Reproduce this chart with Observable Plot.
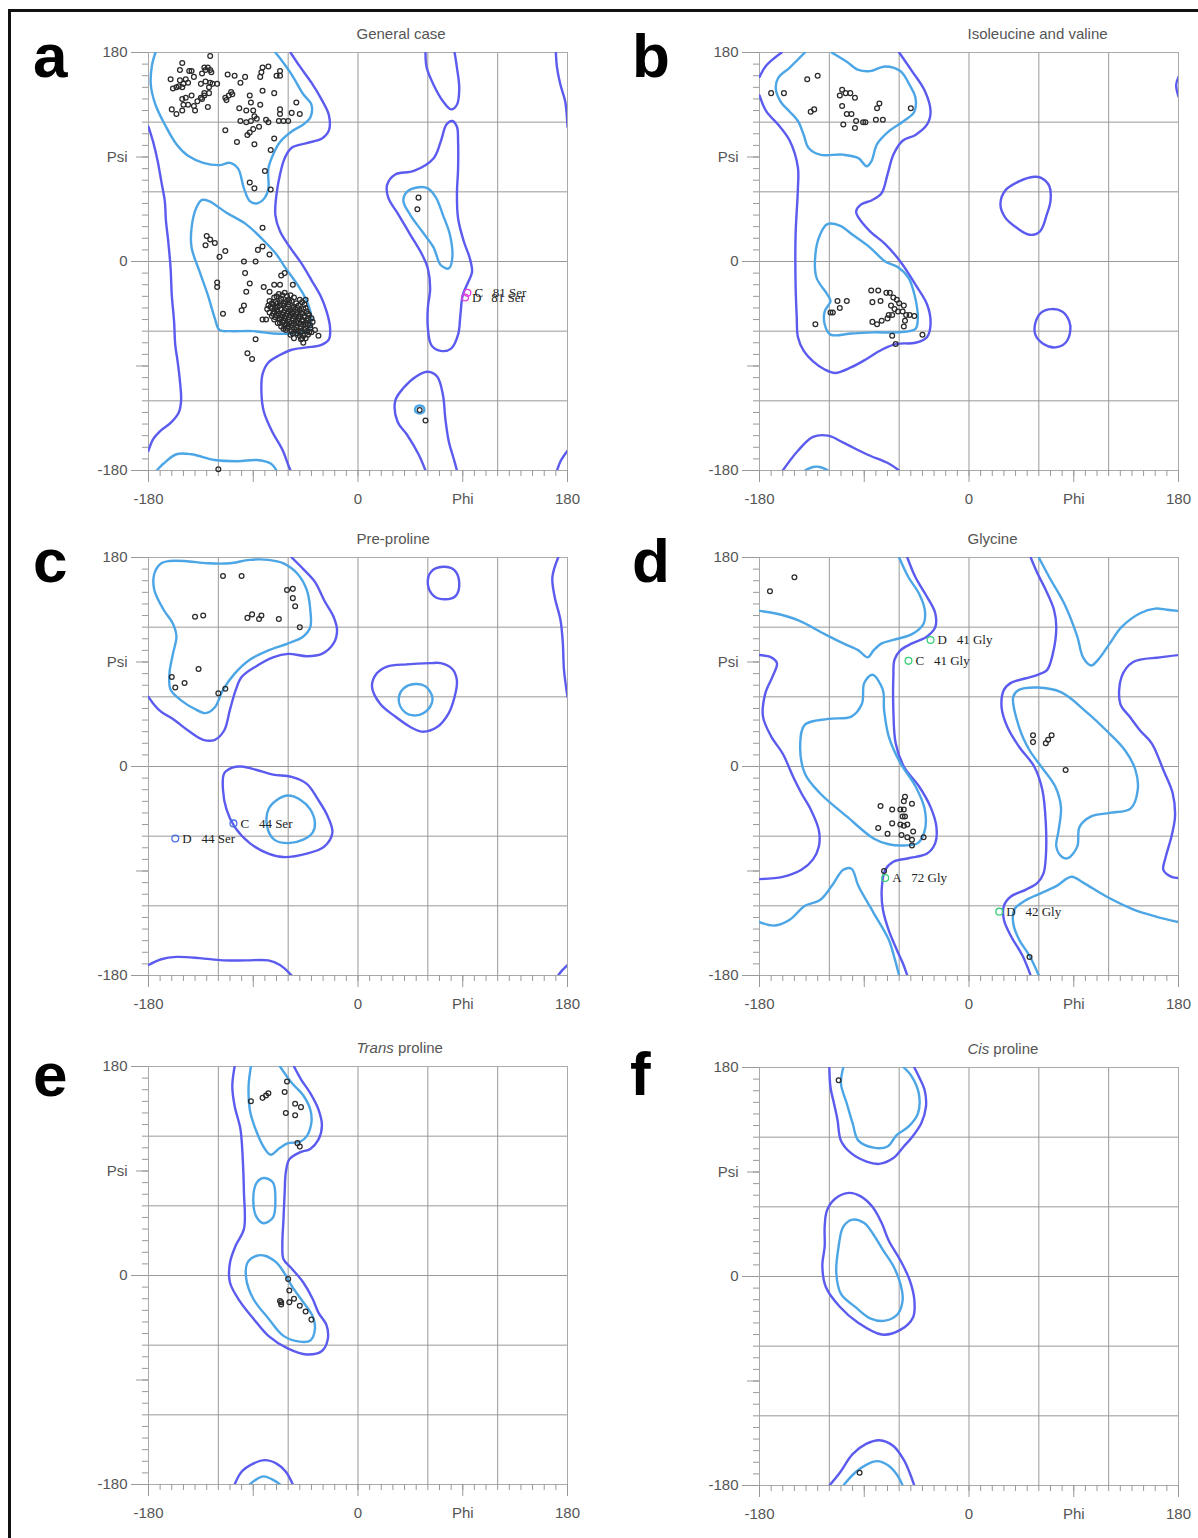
<!DOCTYPE html>
<html><head><meta charset="utf-8">
<script src="https://cdn.jsdelivr.net/npm/d3@7"></script>
<script src="https://cdn.jsdelivr.net/npm/@observablehq/plot@0.6"></script>
<style>
body{margin:0;background:#fff;width:1198px;height:1538px;overflow:hidden;position:relative;font-family:Arial,"Liberation Sans",sans-serif;}
#frame{position:absolute;left:8px;top:9px;width:1300px;height:1700px;border-left:3px solid #111;border-top:3px solid #111;}
svg.panel{position:absolute;}
#overlay{position:absolute;left:0;top:0;}
</style></head><body>
<div id="frame"></div>
<script>
// ---------- axis ticks ----------
const minorTicks = [-180,-170,-160,-150,-140,-130,-120,-110,-100,-90,-80,-70,-60,-50,-40,-30,-20,-10,0,10,20,30,40,50,60,70,80,90,100,110,120,130,140,150,160,170,180];
const gridLines = [-120,-60,0,60,120];
const xMajorTicks = [-180,-90,0,90,180];
const xLabelTicks = [-180,0,90,180];
const xLabelText = ["-180","0","Phi","180"];
const yMidTicks = [90,-90];
const yMajorTicks = [180,0,-180];
const yLabelTicks = [180,90,0,-180];
const yLabelText = ["180","Psi","0","-180"];

// ---------- panel titles ----------
const panelKeys = ["a","b","c","d","e","f"];
const panelTitles = [["","General case"],["","Isoleucine and valine"],["","Pre-proline"],["","Glycine"],["Trans"," proline"],["Cis"," proline"]];

// ---------- contours (phi, psi) ----------
const contoursA = [
 {level:"allowed", closed:false, pts:[[-180,116],[-176,103],[-172,86],[-169,69],[-166,52],[-165,35],[-163,17],[-161,-6],[-160,-29],[-158,-52],[-157,-72],[-155,-86],[-153,-103],[-152,-120],[-154,-130],[-161,-139],[-170,-146],[-176,-153],[-180,-163]]},
 {level:"allowed", closed:false, pts:[[-58,180],[-50,168],[-40,154],[-31,139],[-25,126],[-25,113],[-31,106],[-44,102],[-57,98],[-63,89],[-67,75],[-70,58],[-71,40],[-67,26],[-59,13],[-49,-1],[-40,-16],[-32,-30],[-27,-43],[-24,-57],[-25,-67],[-32,-72],[-44,-74],[-57,-76],[-68,-81],[-77,-87],[-82,-97],[-83,-112],[-81,-129],[-74,-146],[-65,-162],[-60,-175],[-58,-180]]},
 {level:"allowed", closed:false, pts:[[58,180],[59,167],[65,152],[73,138],[80,131],[85,135],[87,149],[85,167],[83,180]]},
 {level:"allowed", closed:true, pts:[[81,121],[76,118],[71,103],[65,89],[48,78],[32,75],[25,66],[26,55],[35,40],[45,23],[55,6],[60,-6],[62,-23],[60,-40],[60,-57],[63,-72],[71,-77],[80,-75],[86,-63],[88,-46],[90,-29],[95,-17],[98,-9],[96,3],[91,17],[86,37],[85,58],[86,80],[86,103],[85,116]]},
 {level:"allowed", closed:false, pts:[[58,-180],[52,-166],[42,-149],[34,-138],[32,-120],[39,-109],[50,-99],[60,-95],[68,-99],[73,-115],[75,-135],[78,-155],[82,-169],[85,-180]]},
 {level:"allowed", closed:false, pts:[[170,180],[171,167],[174,152],[178,138],[180,116]]},
 {level:"allowed", closed:false, pts:[[171,-180],[174,-172],[180,-163]]},
 {level:"favoured", closed:false, pts:[[-174,180],[-177,169],[-178,152],[-174,135],[-166,118],[-156,101],[-146,91],[-133,85],[-119,83],[-110,85],[-103,80],[-98,63],[-93,52],[-87,50],[-80,55],[-77,63],[-77,80],[-73,92],[-67,103],[-57,112],[-47,118],[-41,124],[-40,135],[-47,144],[-57,161],[-67,175],[-71,180]]},
 {level:"favoured", closed:true, pts:[[-134,53],[-139,46],[-143,29],[-143,12],[-136,-9],[-129,-29],[-123,-49],[-119,-59],[-110,-60],[-90,-60],[-73,-62],[-57,-62],[-44,-60],[-40,-50],[-44,-34],[-52,-20],[-62,-6],[-70,6],[-80,17],[-96,32],[-113,42],[-128,52]]},
 {level:"favoured", closed:false, pts:[[-173,-180],[-167,-174],[-156,-166],[-143,-166],[-123,-171],[-103,-172],[-87,-171],[-75,-174],[-70,-180]]},
 {level:"favoured", closed:true, pts:[[52,64],[42,60],[39,52],[45,40],[55,26],[65,12],[71,-3],[78,-6],[81,3],[79,23],[73,40],[67,55],[60,63]]},
 {level:"favoured", closed:true, pts:[[57,-128],[56,-125],[53,-124],[50,-125],[49,-128],[50,-130],[53,-131],[56,-130]]}
];
const contoursB = [
 {level:"allowed", closed:false, pts:[[-180,159],[-174,169],[-161,180]]},
 {level:"allowed", closed:false, pts:[[-60,180],[-49,164],[-38,147],[-33,129],[-36,118],[-46,109],[-57,104],[-65,92],[-70,75],[-75,59],[-83,53],[-93,49],[-97,43],[-95,38],[-85,26],[-72,15],[-59,0],[-46,-20],[-36,-37],[-33,-53],[-36,-65],[-46,-70],[-62,-71],[-75,-76],[-88,-84],[-101,-91],[-115,-96],[-124,-93],[-134,-86],[-142,-77],[-147,-65],[-148,-48],[-149,-20],[-149,23],[-147,63],[-147,81],[-154,104],[-164,118],[-174,129],[-180,143]]},
 {level:"allowed", closed:true, pts:[[56,73],[43,69],[31,61],[27,49],[31,38],[41,29],[52,23],[61,26],[67,41],[70,52],[69,65],[62,72]]},
 {level:"allowed", closed:true, pts:[[71,-41],[80,-43],[86,-51],[87,-60],[83,-70],[74,-74],[64,-71],[57,-63],[57,-53],[62,-44]]},
 {level:"allowed", closed:false, pts:[[-160,-180],[-147,-163],[-134,-151],[-121,-150],[-108,-156],[-88,-166],[-69,-174],[-60,-180]]},
 {level:"allowed", closed:false, pts:[[180,159],[178,152],[180,142]]},
 {level:"favoured", closed:false, pts:[[-141,180],[-154,167],[-164,158],[-166,149],[-162,138],[-154,129],[-147,121],[-142,109],[-138,98],[-128,92],[-108,92],[-95,89],[-88,82],[-84,86],[-79,101],[-69,112],[-56,121],[-47,129],[-46,141],[-51,152],[-59,164],[-72,168],[-85,164],[-95,165],[-105,172],[-118,180]]},
 {level:"favoured", closed:true, pts:[[-122,32],[-128,23],[-132,6],[-131,-14],[-122,-28],[-119,-34],[-124,-43],[-124,-54],[-119,-63],[-101,-62],[-82,-61],[-62,-61],[-46,-58],[-44,-48],[-47,-28],[-52,-14],[-61,-5],[-72,0],[-85,12],[-100,23],[-111,31]]},
 {level:"favoured", closed:false, pts:[[-141,-180],[-134,-177],[-128,-177],[-121,-180]]}
];
const contoursC = [
 {level:"favoured", closed:true, pts:[[-162,177],[-169,175],[-175,166],[-175,152],[-167,135],[-159,123],[-156,112],[-159,97],[-162,80],[-161,66],[-152,57],[-141,50],[-131,46],[-123,51],[-116,66],[-106,80],[-93,92],[-77,100],[-60,106],[-47,112],[-41,120],[-41,135],[-44,152],[-52,166],[-64,175],[-77,178],[-93,178],[-110,175],[-129,175],[-149,177]]},
 {level:"allowed", closed:false, pts:[[-57,180],[-47,170],[-37,159],[-29,143],[-21,129],[-18,117],[-21,106],[-31,97],[-44,95],[-60,97],[-73,94],[-88,86],[-100,77],[-105,66],[-110,49],[-115,31],[-123,23],[-133,23],[-146,31],[-159,41],[-169,47],[-175,53],[-180,60]]},
 {level:"allowed", closed:false, pts:[[172,180],[167,163],[169,146],[174,126],[176,106],[177,83],[180,60]]},
 {level:"allowed", closed:true, pts:[[73,172],[83,169],[87,158],[84,147],[75,144],[65,147],[60,157],[63,168]]},
 {level:"allowed", closed:true, pts:[[62,89],[42,88],[25,86],[16,80],[12,69],[19,54],[32,43],[45,34],[55,30],[68,34],[78,46],[83,60],[85,74],[81,84],[71,89]]},
 {level:"favoured", closed:true, pts:[[49,71],[58,69],[64,59],[60,49],[50,44],[40,47],[35,57],[39,67]]},
 {level:"allowed", closed:true, pts:[[-108,-1],[-115,-6],[-116,-20],[-113,-37],[-106,-52],[-93,-66],[-77,-75],[-64,-78],[-44,-75],[-29,-69],[-22,-57],[-26,-43],[-34,-29],[-44,-15],[-57,-9],[-73,-7],[-87,-3],[-100,0]]},
 {level:"favoured", closed:true, pts:[[-60,-25],[-70,-29],[-77,-37],[-78,-52],[-72,-63],[-60,-66],[-47,-63],[-39,-57],[-37,-49],[-41,-37],[-49,-29]]},
 {level:"allowed", closed:false, pts:[[-180,-171],[-169,-166],[-156,-164],[-136,-165],[-116,-167],[-96,-167],[-77,-167],[-67,-171],[-57,-180]]},
 {level:"allowed", closed:false, pts:[[172,-180],[175,-176],[180,-171]]}
];
const contoursD = [
 {level:"allowed", closed:false, pts:[[-53,180],[-46,163],[-36,146],[-29,132],[-29,120],[-36,112],[-49,106],[-59,100],[-64,92],[-65,77],[-65,49],[-63,20],[-56,0],[-43,-17],[-33,-35],[-28,-52],[-29,-66],[-36,-75],[-52,-79],[-65,-82],[-72,-89],[-75,-106],[-74,-123],[-69,-141],[-62,-158],[-57,-169],[-53,-180]]},
 {level:"favoured", closed:false, pts:[[-60,180],[-52,163],[-43,149],[-38,135],[-39,123],[-49,114],[-65,109],[-75,106],[-82,100],[-87,94],[-95,100],[-108,106],[-124,114],[-147,126],[-167,132],[-180,134]]},
 {level:"favoured", closed:true, pts:[[-83,79],[-74,66],[-73,49],[-69,26],[-59,3],[-46,-17],[-38,-37],[-38,-55],[-44,-66],[-56,-68],[-69,-67],[-82,-62],[-105,-43],[-128,-23],[-141,-6],[-145,20],[-141,36],[-121,41],[-101,43],[-92,54],[-90,72]]},
 {level:"favoured", closed:false, pts:[[-180,-134],[-167,-137],[-154,-132],[-141,-120],[-128,-115],[-118,-103],[-108,-89],[-101,-88],[-95,-103],[-82,-126],[-69,-149],[-64,-165],[-60,-180]]},
 {level:"allowed", closed:false, pts:[[-180,96],[-170,94],[-165,89],[-169,77],[-175,63],[-177,43],[-170,26],[-160,11],[-151,-9],[-144,-23],[-136,-37],[-129,-55],[-129,-69],[-134,-80],[-144,-89],[-160,-95],[-180,-97]]},
 {level:"allowed", closed:false, pts:[[180,96],[164,94],[141,90],[131,77],[130,54],[138,43],[147,31],[157,20],[167,-3],[175,-23],[177,-43],[174,-60],[169,-78],[167,-89],[174,-95],[180,-96]]},
 {level:"allowed", closed:false, pts:[[53,-180],[46,-163],[36,-146],[30,-132],[30,-120],[36,-112],[49,-106],[59,-100],[64,-92],[66,-78],[66,-49],[63,-20],[56,0],[43,17],[33,34],[28,51],[30,66],[36,72],[49,76],[59,79],[67,83],[72,97],[75,120],[73,135],[66,152],[59,166],[53,180]]},
 {level:"favoured", closed:false, pts:[[60,-180],[52,-163],[43,-149],[38,-135],[39,-123],[49,-115],[62,-109],[75,-103],[88,-95],[98,-100],[118,-112],[141,-123],[160,-129],[180,-134]]},
 {level:"favoured", closed:true, pts:[[38,60],[43,34],[52,14],[62,0],[74,-17],[79,-35],[77,-55],[75,-69],[80,-78],[85,-79],[93,-69],[95,-52],[105,-43],[121,-40],[139,-36],[145,-20],[143,-3],[134,14],[118,31],[102,46],[79,64],[59,68],[43,66]]},
 {level:"favoured", closed:false, pts:[[60,180],[69,163],[82,140],[93,112],[98,94],[105,87],[111,92],[121,106],[131,120],[147,132],[160,136],[170,135],[180,134]]}
];
const contoursE = [
 {level:"allowed", closed:false, pts:[[-106,180],[-108,163],[-106,146],[-101,126],[-99,100],[-98,72],[-98,40],[-105,26],[-110,11],[-110,-6],[-101,-23],[-90,-37],[-77,-52],[-60,-63],[-44,-68],[-31,-65],[-26,-55],[-27,-43],[-34,-32],[-39,-20],[-47,-6],[-57,6],[-64,14],[-65,26],[-64,49],[-63,72],[-62,89],[-59,100],[-50,106],[-41,109],[-34,117],[-31,129],[-34,143],[-41,157],[-49,169],[-55,180]]},
 {level:"favoured", closed:false, pts:[[-92,180],[-94,163],[-93,143],[-88,126],[-80,109],[-75,104],[-67,110],[-60,114],[-50,115],[-44,120],[-40,132],[-41,143],[-47,155],[-57,166],[-67,180]]},
 {level:"favoured", closed:true, pts:[[-81,84],[-73,80],[-71,65],[-73,50],[-81,45],[-87,50],[-90,65],[-87,80]]},
 {level:"favoured", closed:true, pts:[[-87,17],[-95,11],[-96,-3],[-90,-20],[-77,-37],[-64,-52],[-50,-57],[-41,-56],[-37,-46],[-39,-35],[-47,-23],[-57,-9],[-62,0],[-70,11],[-80,17]]},
 {level:"allowed", closed:false, pts:[[-106,-180],[-100,-169],[-90,-162],[-80,-159],[-70,-162],[-62,-169],[-56,-180]]},
 {level:"favoured", closed:false, pts:[[-93,-180],[-88,-176],[-81,-173],[-73,-176],[-67,-180]]}
];
const contoursF = [
 {level:"allowed", closed:false, pts:[[-120,180],[-119,163],[-116,149],[-113,135],[-110,117],[-101,106],[-88,99],[-77,97],[-65,102],[-56,112],[-49,120],[-41,132],[-37,146],[-38,160],[-43,172],[-47,180]]},
 {level:"favoured", closed:false, pts:[[-108,180],[-110,166],[-105,149],[-100,132],[-95,117],[-82,111],[-70,112],[-62,122],[-52,129],[-44,140],[-43,157],[-49,172],[-56,180]]},
 {level:"allowed", closed:true, pts:[[-103,72],[-115,67],[-122,57],[-124,43],[-124,26],[-126,9],[-123,-9],[-111,-26],[-95,-40],[-75,-50],[-59,-46],[-48,-35],[-47,-20],[-51,-3],[-59,14],[-69,31],[-75,46],[-83,60],[-93,69]]},
 {level:"favoured", closed:true, pts:[[-100,49],[-108,43],[-112,26],[-114,3],[-110,-15],[-98,-26],[-85,-36],[-72,-38],[-61,-32],[-57,-20],[-59,-6],[-65,9],[-74,23],[-82,36],[-90,46]]},
 {level:"allowed", closed:false, pts:[[-120,-180],[-111,-169],[-100,-153],[-88,-144],[-77,-141],[-65,-146],[-56,-158],[-51,-169],[-47,-180]]},
 {level:"favoured", closed:false, pts:[[-108,-180],[-98,-169],[-88,-162],[-79,-159],[-69,-163],[-61,-172],[-57,-180]]}
];

// ---------- residues (phi, psi) ----------
const pointsA = [
 [-127,177],[-151,171],[-153,165],[-145,164],[-143,164],[-132,167],[-129,167],[-131,165],[-127,165],[-126,163],[-134,162],[-141,159],[-161,157],[-153,156],[-148,157],[-146,154],[-150,153],[-154,151],[-159,149],[-156,150],[-151,150],[-135,153],[-131,155],[-127,154],[-125,153],[-121,153],[-128,150],[-132,145],[-128,145],[-143,143],[-148,141],[-151,140],[-135,141],[-132,143],[-138,138],[-146,135],[-141,134],[-150,135],[-160,131],[-156,127],[-151,130],[-140,130],[-129,133],[-134,140],
 [-112,161],[-106,160],[-97,159],[-101,154],[-82,167],[-77,168],[-83,163],[-84,159],[-70,160],[-67,164],[-67,160],[-109,146],[-111,143],[-113,139],[-108,144],[-114,141],[-93,143],[-82,147],[-72,145],[-92,137],[-84,135],[-102,132],[-96,130],[-90,130],[-89,125],[-67,131],[-67,127],[-57,128],[-50,127],[-53,137],[-101,121],[-96,120],[-92,121],[-87,123],[-79,122],[-77,120],[-68,121],[-64,121],[-60,121],[-85,116],[-90,114],[-93,111],[-95,109],[-114,113],[-104,103],[-89,101],[-72,106],[-75,96],[-80,78],[-93,68],[-89,63],[-75,62],
 [-82,29],[-130,22],[-127,19],[-123,16],[-131,14],[-114,9],[-119,4],[-86,10],[-82,13],[-76,6],[-98,0],[-88,0],[-97,-10],[-93,-19],[-96,-26],[-121,-18],[-121,-22],[-66,-12],[-63,-10],[-56,-20],[-81,-22],[-72,-20],[-67,-20],[-76,-26],[-98,-38],[-100,-42],[-116,-45],[-88,-67],[-95,-79],[-91,-84],[-82,-50],[-79,-50],[-45,-33],[-37,-59],[-34,-64],[-47,-70],[-48,-66],
 [-68,-28],[-63,-27],[-58,-29],[-72,-31],[-66,-32],[-61,-30],[-55,-31],[-50,-33],
 [-76,-34],[-71,-35],[-67,-34],[-62,-35],[-57,-34],[-53,-36],
 [-77,-38],[-73,-37],[-69,-39],[-64,-38],[-60,-37],[-55,-39],[-51,-38],[-46,-37],
 [-78,-41],[-74,-40],[-70,-42],[-66,-41],[-62,-40],[-58,-42],[-54,-41],[-50,-42],[-45,-40],
 [-76,-44],[-72,-43],[-68,-45],[-64,-44],[-60,-43],[-56,-45],[-52,-44],[-48,-45],[-44,-43],
 [-74,-47],[-70,-46],[-66,-48],[-62,-47],[-58,-46],[-54,-48],[-50,-47],[-46,-48],[-42,-46],
 [-72,-50],[-68,-49],[-64,-51],[-60,-50],[-56,-49],[-52,-51],[-48,-50],[-44,-51],[-40,-49],
 [-69,-53],[-65,-52],[-61,-54],[-57,-53],[-53,-52],[-49,-54],[-45,-53],[-41,-55],
 [-66,-56],[-61,-57],[-57,-55],[-53,-57],[-49,-56],[-45,-58],[-41,-57],
 [-62,-59],[-57,-60],[-53,-59],[-49,-61],[-44,-60],[-40,-61],
 [-58,-63],[-52,-62],[-47,-64],[-43,-63],[-55,-66],[-49,-67],
 [-70,-30],[-65,-29],[-60,-33],[-74,-36],[-69,-36],[-64,-36],[-59,-35],[-48,-35],
 [-75,-39],[-71,-40],[-67,-38],[-63,-42],[-56,-40],[-52,-40],[-47,-41],
 [-73,-45],[-69,-43],[-65,-46],[-61,-45],[-57,-44],[-53,-46],[-49,-44],[-43,-45],
 [-71,-48],[-67,-50],[-63,-49],[-59,-48],[-55,-47],[-51,-49],[-47,-51],[-43,-49],[-39,-52],
 [-67,-53],[-63,-55],[-59,-52],[-55,-54],[-51,-53],[-47,-55],[-43,-54],
 [-64,-58],[-60,-56],[-55,-58],[-51,-60],[-46,-59],[-42,-61],[-56,-62],[-50,-64],[-45,-66],
 [-120,-179],[52,55],[51,45],[53,-128],[58,-137]
];
const pointsB = [
 [-170,145],[-159,145],[-139,157],[-130,160],[-136,129],[-133,131],[-109,148],[-106,145],[-102,145],[-111,143],[-98,141],[-109,134],[-105,127],[-101,127],[-108,118],[-98,115],[-97,121],[-91,120],[-89,120],[-79,132],[-77,136],[-80,122],[-74,122],[-50,132],
 [-132,-54],[-119,-44],[-117,-44],[-113,-34],[-105,-34],[-111,-40],[-84,-25],[-78,-25],[-83,-35],[-76,-34],[-83,-52],[-79,-54],[-75,-51],[-71,-27],[-68,-27],[-65,-31],[-67,-38],[-62,-33],[-60,-36],[-56,-38],[-64,-41],[-61,-43],[-69,-46],[-66,-46],[-70,-49],[-57,-43],[-54,-46],[-51,-46],[-47,-47],[-55,-51],[-56,-56],[-66,-64],[-63,-71],[-40,-63]
];
const pointsC = [
 [-116,164],[-100,164],[-61,152],[-56,153],[-56,145],[-54,138],[-50,120],[-140,129],[-133,130],[-95,128],[-91,131],[-83,130],[-85,127],[-68,127],[-137,84],[-160,77],[-157,68],[-149,72],[-120,63],[-114,67]
];
const pointsD = [
 [-171,151],[-150,163],[-73,-90],[52,-164],[55,27],[55,21],[66,20],[68,23],[71,27],[83,-3],
 [-76,-34],[-66,-37],[-59,-37],[-56,-37],[-56,-30],[-55,-26],[-49,-32],[-57,-43],[-55,-43],[-66,-49],[-59,-50],[-56,-51],[-53,-50],[-78,-53],[-70,-58],[-58,-59],[-53,-61],[-48,-56],[-49,-63],[-49,-68],[-39,-61]
];
const pointsE = [
 [-61,167],[-63,158],[-92,150],[-82,153],[-79,155],[-77,157],[-54,148],[-49,145],[-62,140],[-54,138],[-52,114],[-50,111],
 [-60,-3],[-59,-13],[-55,-20],[-59,-23],[-67,-22],[-66,-25],[-66,-23],[-50,-26],[-45,-31],[-40,-38]
];
const pointsF = [[-112,169],[-94,-169]];

// ---------- labelled outliers ----------
const outliersA = [{phi:94, psi:-27, chain:"C", res:"81 Ser"},{phi:92, psi:-31, chain:"D", res:"81 Ser"}];
const outliersC = [{phi:-107, psi:-49, chain:"C", res:"44 Ser"},{phi:-157, psi:-62, chain:"D", res:"44 Ser"}];
const outliersD = [{phi:-33, psi:109, chain:"D", res:"41 Gly"},{phi:-52, psi:91, chain:"C", res:"41 Gly"},{phi:-72, psi:-96, chain:"A", res:"72 Gly"},{phi:26, psi:-125, chain:"D", res:"42 Gly"}];
const outliersB = [], outliersE = [], outliersF = [];

// ---------- layout / style ----------
const OUTER = "#5b5bef", INNER = "#4ca6e6";
const layout = {
  a:{left:148, top:52, lx:33, ly:77}, b:{left:759, top:52, lx:632, ly:77},
  c:{left:148, top:557, lx:33, ly:582}, d:{left:759, top:557, lx:632, ly:582},
  e:{left:148, top:1066, lx:33, ly:1096}, f:{left:759, top:1067, lx:630, ly:1095}
};
const panelData = {
  a:{contours:contoursA, points:pointsA, outliers:outliersA, oc:"#e040e0"},
  b:{contours:contoursB, points:pointsB, outliers:outliersB, oc:"#333"},
  c:{contours:contoursC, points:pointsC, outliers:outliersC, oc:"#4a6ee6"},
  d:{contours:contoursD, points:pointsD, outliers:outliersD, oc:"#3ad07a"},
  e:{contours:contoursE, points:pointsE, outliers:outliersE, oc:"#333"},
  f:{contours:contoursF, points:pointsF, outliers:outliersF, oc:"#333"}
};

const ML = 60, MT = 10, MR = 15, MB = 45, PW = 419, PH = 418;
const tickCol = "#999";

function drawPanel(key) {
  const cfg = panelData[key];
  const rows = [];
  cfg.contours.forEach((c, i) => c.pts.forEach(p => rows.push({id:i, level:c.level, closed:c.closed, phi:p[0], psi:p[1]})));
  const sel = (level, closed) => rows.filter(r => r.level === level && r.closed === closed);
  const lo = (color, curve) => ({x:"phi", y:"psi", z:"id", stroke:color, strokeWidth:2.4, curve, clip:true});
  const svg = Plot.plot({
    width: ML + PW + MR, height: MT + PH + MB,
    marginLeft: ML, marginTop: MT, marginRight: MR, marginBottom: MB,
    x: {domain:[-180,180], label:null},
    y: {domain:[-180,180], label:null},
    style: {background:"transparent", fontFamily:"Arial, 'Liberation Sans', sans-serif", overflow:"visible"},
    marks: [
      Plot.ruleX(gridLines, {stroke:"#999", strokeWidth:1}),
      Plot.ruleY(gridLines, {stroke:"#999", strokeWidth:1}),
      Plot.frame({stroke:"#aaa"}),
      Plot.axisX(minorTicks, {tickSize:6, tickFormat:() => "", color:tickCol, label:null}),
      Plot.axisX(xMajorTicks, {tickSize:12, tickFormat:() => "", color:tickCol, label:null}),
      Plot.axisX(xLabelTicks, {tickSize:0, tickPadding:23, tickFormat:d => xLabelText[xLabelTicks.indexOf(d)], color:"#555", fontSize:15, label:null}),
      Plot.axisY(minorTicks, {tickSize:6, tickFormat:() => "", color:tickCol, label:null}),
      Plot.axisY(yMidTicks, {tickSize:12, tickFormat:() => "", color:tickCol, label:null}),
      Plot.axisY(yMajorTicks, {tickSize:17, tickFormat:() => "", color:tickCol, label:null}),
      Plot.axisY(yLabelTicks, {tickSize:0, tickPadding:21, tickFormat:d => yLabelText[yLabelTicks.indexOf(d)], color:"#555", fontSize:15, label:null}),
      Plot.line(sel("allowed", false), lo(OUTER, "catmull-rom")),
      Plot.line(sel("allowed", true), lo(OUTER, "catmull-rom-closed")),
      Plot.line(sel("favoured", false), lo(INNER, "catmull-rom")),
      Plot.line(sel("favoured", true), lo(INNER, "catmull-rom-closed")),
      Plot.dot(cfg.points, {x:d => d[0], y:d => d[1], r:2.4, stroke:"#2a2a2a", strokeWidth:1.25, fill:"none"}),
      Plot.dot(cfg.outliers, {x:"phi", y:"psi", r:3.4, stroke:cfg.oc, strokeWidth:1.3, fill:"none"}),
      Plot.text(cfg.outliers, {x:"phi", y:"psi", text:d => d.chain + "\u00a0\u00a0\u00a0" + d.res, textAnchor:"start", dx:7, fontFamily:"'Liberation Serif', 'Times New Roman', serif", fontSize:13, fill:"#222"})
    ]
  });
  svg.classList.add("panel");
  svg.style.left = (layout[key].left - ML) + "px";
  svg.style.top = (layout[key].top - MT) + "px";
  document.body.appendChild(svg);
}

// overlay for panel letters and titles
const ov = d3.select("body").append("svg").attr("id","overlay").attr("width",1198).attr("height",1538);
panelKeys.forEach((k, i) => {
  const L = layout[k];
  ov.append("text").attr("x", L.lx).attr("y", L.ly).attr("font-size", 62).attr("font-weight", "bold")
    .attr("font-family", "Arial, 'Liberation Sans', sans-serif").attr("fill", "#000").text(k);
  const t = ov.append("text").attr("x", L.left + PW/2 - 1).attr("y", L.top - 13).attr("font-size", 15)
    .attr("font-family", "Arial, 'Liberation Sans', sans-serif").attr("fill", "#555");
  if (panelTitles[i][0]) t.append("tspan").attr("font-style","italic").text(panelTitles[i][0]);
  t.append("tspan").text(panelTitles[i][1]);
});

panelKeys.forEach(drawPanel);
</script></body></html>
